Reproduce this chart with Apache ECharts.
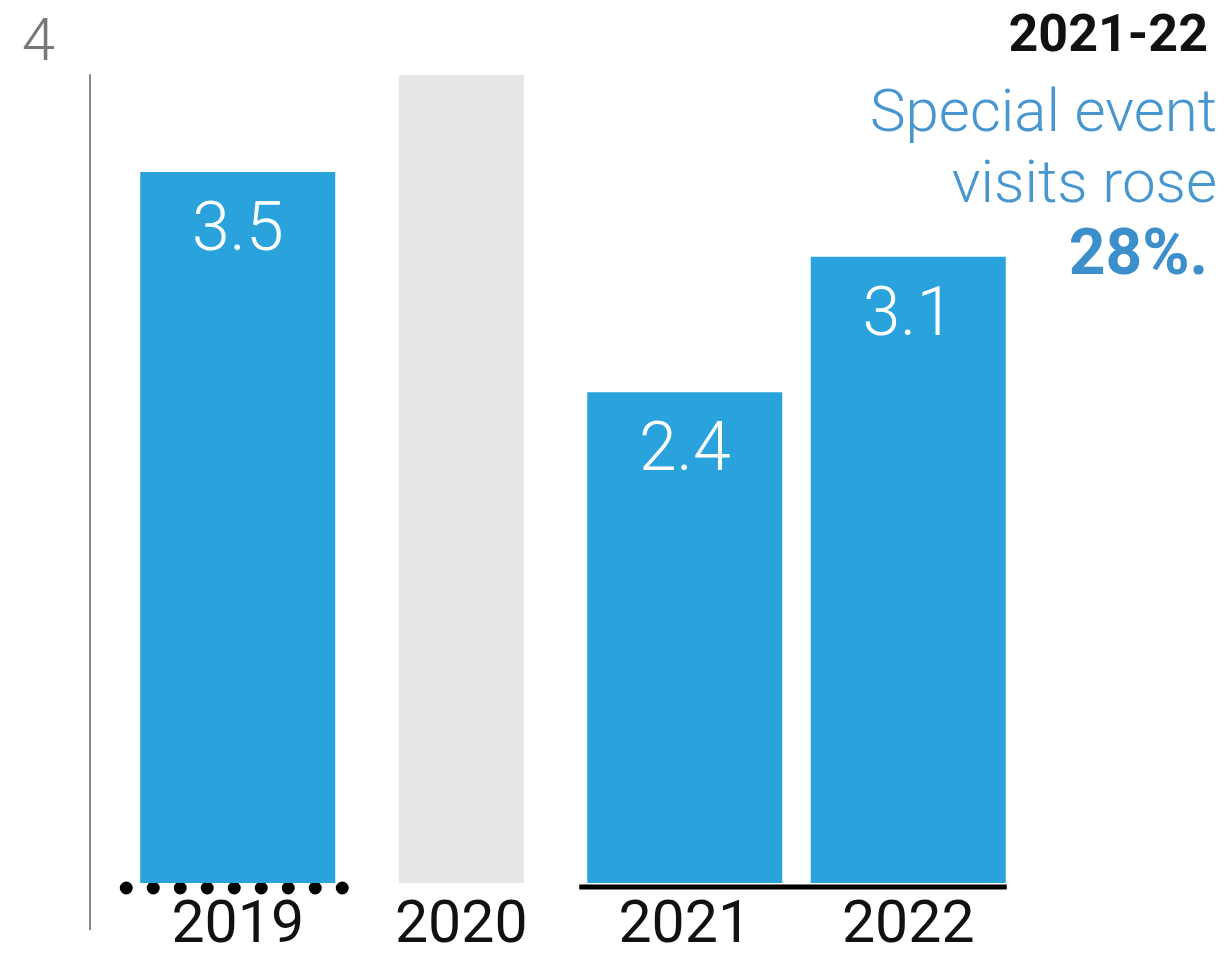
<!DOCTYPE html>
<html><head><meta charset="utf-8">
<script src="https://cdn.jsdelivr.net/npm/echarts@6/dist/echarts.min.js"></script>
<style>html,body{margin:0;padding:0;background:#fff}#c{width:1230px;height:956px}</style>
</head><body><div id="c"></div>
<script>
const categories = ['2019', '2020', '2021', '2022'];
const visits = [3.52, '-', 2.43, 3.10];
const unavailable = ['-', 4, '-', '-'];
const yMax = 4;
const noteYear = '2021-22';
const noteLines = ['Special event', 'visits rose'];
const noteValue = '28%.';

const FONT = "Roboto, 'Liberation Sans Narrow', 'DejaVu Sans Condensed', sans-serif";
const BLUE = '#2aa3dd';
const NOTE_BLUE = '#4896d0';
const BAR_W = 195;

const chart = echarts.init(document.getElementById('c'));

const titles = [
  { text: noteYear, right: 22, top: 12, padding: 0, textStyle: { fontFamily: FONT, fontSize: 52, fontWeight: 'bold', color: '#111', lineHeight: 52 } },
  { text: noteLines[0], right: 13, top: 86, padding: 0, textStyle: { fontFamily: FONT, fontSize: 60, fontWeight: 300, color: NOTE_BLUE, lineHeight: 60 } },
  { text: noteLines[1], right: 13, top: 157, padding: 0, textStyle: { fontFamily: FONT, fontSize: 60, fontWeight: 300, color: NOTE_BLUE, lineHeight: 60 } },
  { text: noteValue, right: 22, top: 226, padding: 0, textStyle: { fontFamily: FONT, fontSize: 64, fontWeight: 'bold', color: '#3d8fcc', lineHeight: 64 } }
];

chart.setOption({
  animation: false,
  backgroundColor: '#fff',
  title: titles,
  grid: { left: 126, right: 210, top: 75, bottom: 73, containLabel: false, outerBoundsMode: 'none' },
  xAxis: [
    {
      type: 'category', data: categories,
      axisLine: { show: false }, axisTick: { show: false },
      axisLabel: { fontFamily: FONT, fontSize: 59, color: '#111', margin: 15, lineHeight: 59 }
    },
    { type: 'category', data: categories, show: false }
  ],
  yAxis: {
    type: 'value', min: 0, max: yMax, interval: yMax,
    offset: 36,
    splitLine: { show: false },
    axisTick: { show: false },
    axisLine: { show: true, lineStyle: { color: '#888', width: 2 } },
    axisLabel: {
      fontFamily: FONT, fontSize: 60, fontWeight: 300, color: '#777', margin: 35,
      verticalAlign: 'bottom', lineHeight: 60,
      formatter: v => (v === yMax ? String(v) : '')
    }
  },
  series: [
    {
      type: 'bar', data: unavailable, xAxisIndex: 1, barWidth: 125,
      itemStyle: { color: '#e6e6e6' }, silent: true
    },
    {
      type: 'bar', data: visits, xAxisIndex: 0, barWidth: BAR_W,
      itemStyle: { color: BLUE },
      label: {
        show: true, position: 'insideTop', distance: 27,
        fontFamily: FONT, fontSize: 68, fontWeight: 300, color: '#fff', lineHeight: 68,
        formatter: p => Number(p.value).toFixed(1)
      }
    }
  ]
});

// baseline decorations computed through the chart's own scales
const p0 = chart.convertToPixel({ gridIndex: 0 }, [0, 0]);
const p1 = chart.convertToPixel({ gridIndex: 0 }, [1, 0]);
const p2 = chart.convertToPixel({ gridIndex: 0 }, [2, 0]);
const p3 = chart.convertToPixel({ gridIndex: 0 }, [3, 0]);
const band = p1[0] - p0[0];
const axisX = p0[0] - band / 2 - 36;
const baseY = p0[1];

chart.setOption({
  graphic: [
    {
      type: 'line', silent: true,
      shape: { x1: axisX, y1: baseY, x2: axisX, y2: baseY + 47 },
      style: { stroke: '#888', lineWidth: 2 }
    },
    {
      type: 'line', silent: true,
      shape: { x1: p0[0] - BAR_W / 2 - 14, y1: baseY + 5, x2: p0[0] + BAR_W / 2 + 8, y2: baseY + 5 },
      style: { stroke: '#000', lineWidth: 13, lineCap: 'round', lineDash: [0, 27] }
    },
    {
      type: 'line', silent: true,
      shape: { x1: p2[0] - BAR_W / 2 - 8, y1: baseY + 4, x2: p3[0] + BAR_W / 2 + 1, y2: baseY + 4 },
      style: { stroke: '#000', lineWidth: 5 }
    }
  ]
});
</script>
</body></html>
